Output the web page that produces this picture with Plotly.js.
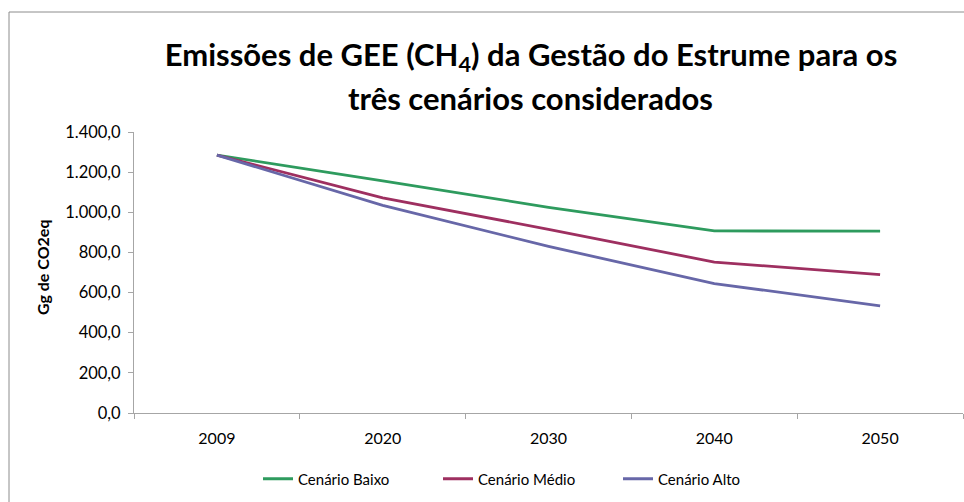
<!DOCTYPE html>
<html>
<head>
<meta charset="utf-8">
<script src="https://cdn.plot.ly/plotly-3.0.1.min.js"></script>
<style>html,body{margin:0;padding:0;background:#fff;}#chart{width:964px;height:502px;}</style>
</head>
<body>
<div id="chart"></div>
<script>
const years = ['2009', '2020', '2030', '2040', '2050'];
const baixo = [1285, 1157, 1025, 907, 906];
const medio = [1285, 1072, 915, 752, 689];
const alto  = [1285, 1034, 830, 645, 534];
const seriesNames = ['Cenário Baixo', 'Cenário Médio', 'Cenário Alto'];
const yTicks = [0, 200, 400, 600, 800, 1000, 1200, 1400];
const titleLine1 = 'Emissões de GEE (CH<sub>4</sub>) da Gestão do Estrume para os';
const titleLine2 = 'três cenários considerados';
const yTitle = 'Gg de CO2eq';

const colors = ['#2E9B5E', '#9E2F60', '#6767A8'];
const FONT = 'Lato, "Open Sans", sans-serif';

const traces = [baixo, medio, alto].map((v, i) => ({
  type: 'scatter', mode: 'lines', x: years, y: v, name: seriesNames[i],
  line: {color: colors[i], width: 2.8}
}));

const L = 134, R = 1, T = 132, B = 89, W = 964, H = 502;
const pw = W - L - R, ph = H - T - B;
const px = x => (x - L) / pw;
const py = y => (H - B - y) / ph;

const layout = {
  width: W, height: H,
  margin: {l: L, r: R, t: T, b: B, pad: 0},
  paper_bgcolor: '#fff', plot_bgcolor: '#fff',
  separators: ',.',
  font: {family: FONT, color: '#000', size: 16},
  title: {text: titleLine1, font: {family: FONT, size: 31, color: '#000', weight: 'bold'},
          x: 531 / W, xref: 'container', xanchor: 'center', y: 1 - 55 / H, yref: 'container', yanchor: 'middle'},
  showlegend: true,
  legend: {orientation: 'h', x: px(258), xanchor: 'left', y: py(479), yanchor: 'middle',
           font: {family: FONT, size: 15, color: '#000'}, itemwidth: 30, entrywidth: 135, entrywidthmode: 'pixels',
           bgcolor: 'rgba(0,0,0,0)'},
  xaxis: {type: 'category', showgrid: false, zeroline: false, showline: true, linecolor: '#A6A6A6', linewidth: 1,
          ticks: 'outside', tickson: 'boundaries', ticklen: 5, tickcolor: '#A6A6A6',
          tickfont: {family: FONT, size: 16, color: '#000'}, ticklabelstandoff: 11,
          range: [-0.5, 4.5], fixedrange: true},
  yaxis: {range: [0, 1400], tickvals: yTicks, tickformat: ',.1f', showgrid: false, zeroline: false,
          showline: true, linecolor: '#A6A6A6', linewidth: 1, ticks: 'outside', ticklen: 5, tickcolor: '#A6A6A6',
          tickfont: {family: FONT, size: 16.5, color: '#000'}, ticklabelstandoff: 4, fixedrange: true},
  annotations: [
    {text: titleLine2, xref: 'paper', yref: 'paper', x: px(530), y: py(98), xanchor: 'center', yanchor: 'middle',
     showarrow: false, font: {family: FONT, size: 31, color: '#000', weight: 'bold'}},
    {text: yTitle, xref: 'paper', yref: 'paper', x: px(42), y: py(268), xanchor: 'center', yanchor: 'middle',
     textangle: -90, showarrow: false, font: {family: FONT, size: 16, color: '#000', weight: 'bold'}}
  ],
  shapes: [
    {type: 'line', xref: 'paper', yref: 'paper', x0: px(9), x1: px(9), y0: py(12), y1: py(502), line: {color: '#8C8C8C', width: 1}},
    {type: 'line', xref: 'paper', yref: 'paper', x0: px(9), x1: px(964), y0: py(12), y1: py(12), line: {color: '#8C8C8C', width: 1}}
  ]
};

Plotly.newPlot('chart', traces, layout, {displayModeBar: false, staticPlot: true});
</script>
</body>
</html>
